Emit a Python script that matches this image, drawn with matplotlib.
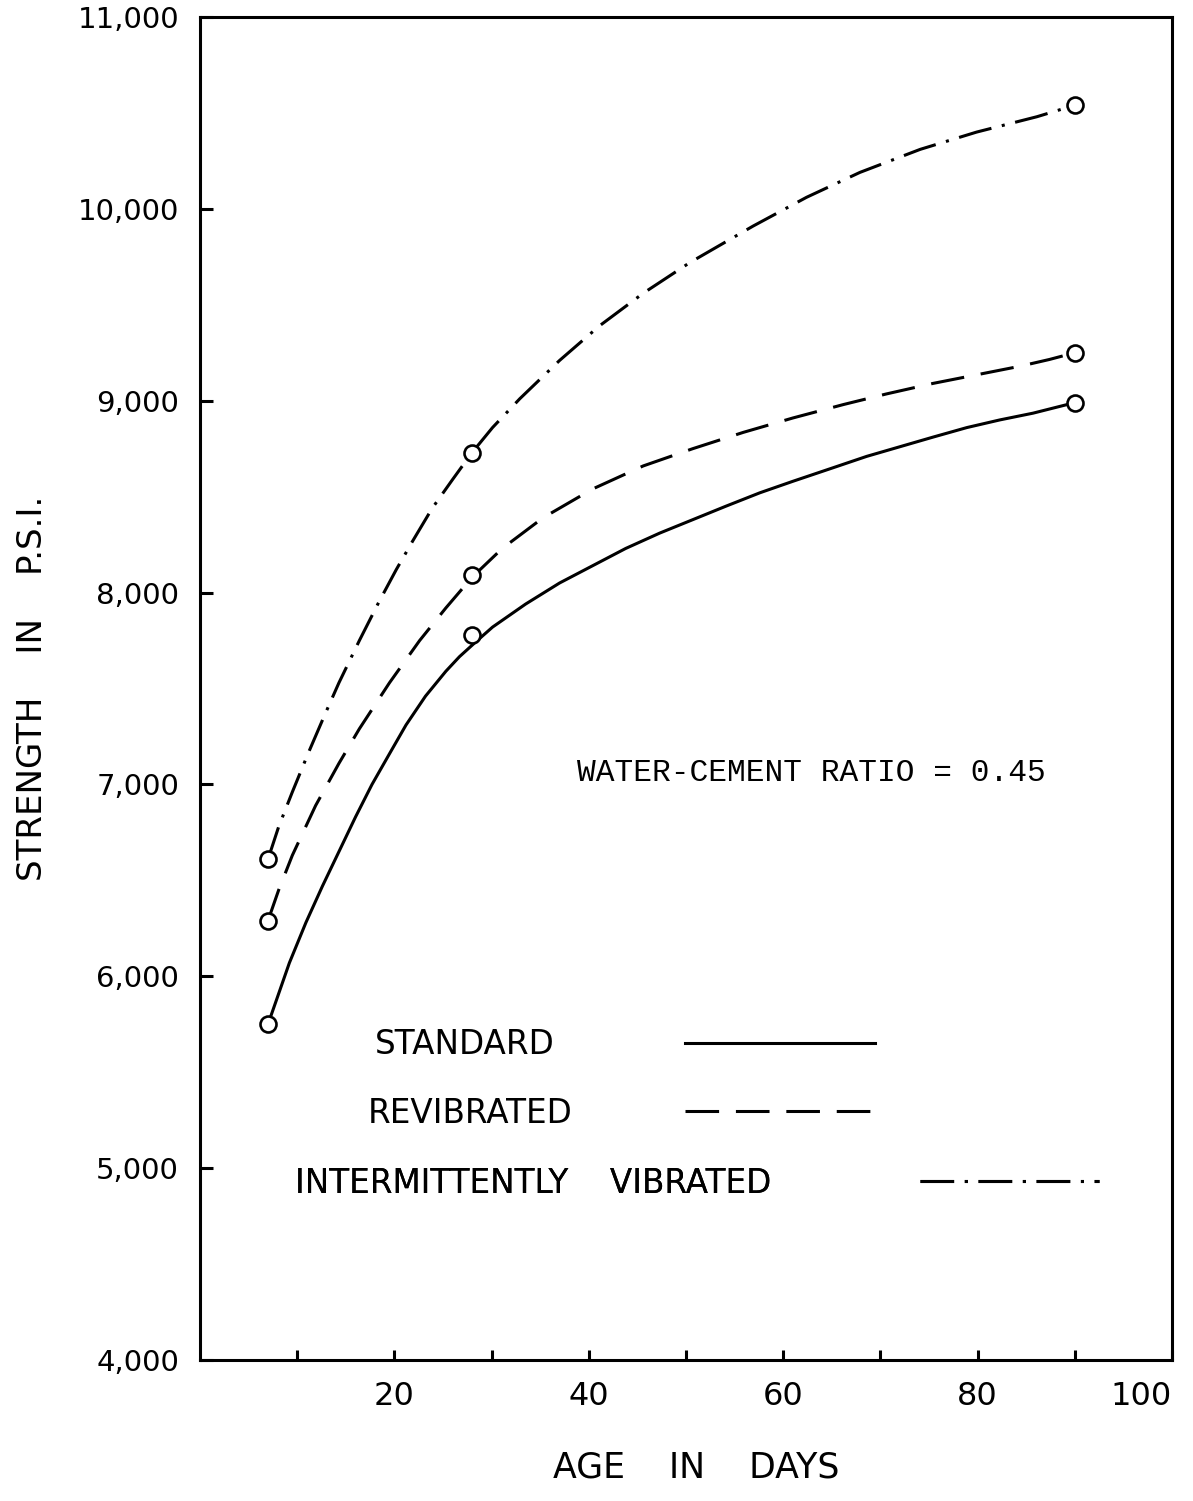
import matplotlib
matplotlib.use("Agg")
import matplotlib.pyplot as plt

# test ages (days) and measured strengths (psi)
ages = [7, 28, 90]
standardPts = [5750, 7780, 8990]
revibratedPts = [6290, 8090, 9250]
intermittentPts = [6610, 8730, 10540]

# curves as drawn on the original sheet
standardDays = [7, 9.2, 10.9, 12.6, 14.3, 16.0, 17.7, 19.5, 21.2, 23.2, 25.3, 26.7, 28.4, 30.1,
                33.5, 37.0, 40.4, 43.8, 47.3, 50.7, 54.1, 57.6, 61.0, 65.1, 68.6, 72.0, 75.4,
                78.9, 82.3, 85.7, 90]
standardVals = [5750, 6070, 6280, 6470, 6650, 6830, 7000, 7160, 7310, 7460, 7590, 7666, 7744, 7820,
                7940, 8050, 8140, 8230, 8310, 8380, 8450, 8520, 8580, 8650, 8710, 8760, 8810,
                8860, 8900, 8935, 8990]

revibratedDays = [7, 8.1, 9.5, 11.9, 14.3, 16.4, 19.5, 22.6, 25.3, 28, 31.1, 35.3, 40.4, 45.6,
                  50.7, 55.9, 61.0, 66.2, 70.6, 75.4, 79.9, 84.4, 87.4, 90]
revibratedVals = [6290, 6450, 6630, 6890, 7110, 7290, 7530, 7750, 7920, 8080, 8230, 8390, 8540, 8660,
                  8750, 8835, 8910, 8980, 9035, 9090, 9135, 9180, 9215, 9250]

intermittentDays = [7, 8.1, 9.5, 11.2, 12.9, 14.3, 16.4, 18.4, 20.2, 21.9, 23.9, 26.0, 28, 30.1,
                    32.9, 37.0, 41.1, 45.6, 50.4, 56.9, 62.4, 67.9, 74.1, 79.9, 86.1, 90]
intermittentVals = [6610, 6780, 6960, 7170, 7370, 7530, 7750, 7950, 8120, 8270, 8440, 8590, 8730, 8860,
                    9010, 9210, 9390, 9560, 9720, 9910, 10060, 10190, 10310, 10400, 10480, 10540]

yTicks = [4000, 5000, 6000, 7000, 8000, 9000, 10000, 11000]
yTickLabels = ['4,000', '5,000', '6,000', '7,000', '8,000', '9,000', '10,000', '11,000']
xTicks = [10, 20, 30, 40, 50, 60, 70, 80, 90, 100]
xTickLabels = ['', '20', '', '40', '', '60', '', '80', '', '100']

LW = 2.2
DASHED = (0, (11, 5.5))
DASHDOT = (0, (11, 3.5, 1, 3.5))
KEY_SIZE = 23.5

plt.rcParams['font.family'] = ['DejaVu Sans']


# one row of the hand-lettered key: label first, line sample after it
def addKeyRow(ax, line, anchor, length, pad):
    leg = ax.legend(handles=[line], loc='center left', bbox_to_anchor=anchor,
                    frameon=False, markerfirst=False, fontsize=KEY_SIZE, handlelength=length,
                    handletextpad=pad, borderpad=0, borderaxespad=0)
    ax.add_artist(leg)
    return leg


fig = plt.figure(figsize=(11.93, 15.01), dpi=100)
fig.subplots_adjust(left=0.1676, right=0.9824, bottom=0.0939, top=0.9887)
ax = fig.add_subplot(111)

lineStd, = ax.plot(standardDays, standardVals, color='black', lw=LW, solid_joinstyle='round',
                   label='STANDARD')
lineRev, = ax.plot(revibratedDays, revibratedVals, color='black', lw=LW, linestyle=DASHED,
                   label='REVIBRATED')
lineInt, = ax.plot(intermittentDays, intermittentVals, color='black', lw=LW, linestyle=DASHDOT,
                   label='INTERMITTENTLY    VIBRATED')

# open circles at the test points
for pts in (standardPts, revibratedPts, intermittentPts):
    ax.plot(ages, pts, 'o', ms=11.5, mfc='white', mec='black', mew=1.9, zorder=3)

ax.set_xlim(0, 100)
ax.set_ylim(4000, 11000)
ax.set_yticks(yTicks)
ax.set_yticklabels(yTickLabels)
ax.set_xticks(xTicks)
ax.set_xticklabels(xTickLabels)
ax.tick_params(axis='y', direction='in', length=9, width=LW, pad=15, labelsize=21)
ax.tick_params(axis='x', direction='in', length=7, width=LW, pad=15, labelsize=23)
ax.get_xticklabels()[-1].set_horizontalalignment('right')
for sp in ax.spines.values():
    sp.set_linewidth(LW)

ax.set_xlabel('AGE    IN    DAYS', fontsize=25, va='center')
ax.xaxis.set_label_coords(0.51, -0.0797)
ax.set_ylabel('STRENGTH    IN    P.S.I.', fontsize=24.5, va='center')
ax.yaxis.set_label_coords(-0.172, 0.5)

ax.text(38.8, 7060, 'WATER-CEMENT RATIO = 0.45', family='Liberation Mono', fontsize=22.5,
        ha='left', va='center')

addKeyRow(ax, lineStd, (0.180, 0.2346), 5.8, 4.0)
addKeyRow(ax, lineRev, (0.1728, 0.1839), 5.8, 3.45)
addKeyRow(ax, lineInt, (0.0977, 0.1318), 5.5, 4.55)

fig.savefig('out.png', dpi=100)
